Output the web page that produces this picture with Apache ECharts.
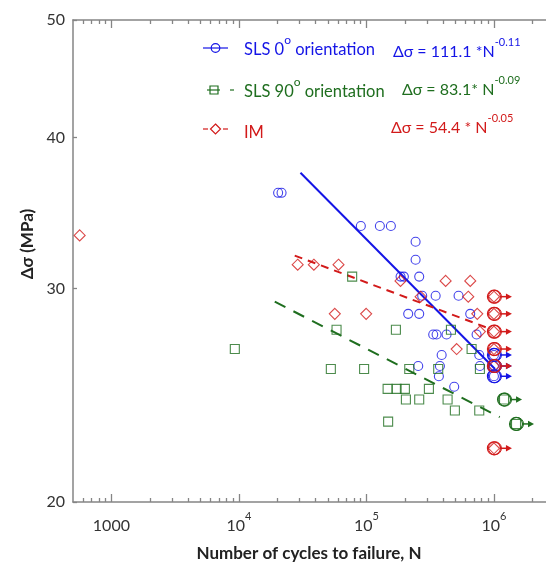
<!DOCTYPE html>
<html><head><meta charset="utf-8">
<script src="https://cdn.jsdelivr.net/npm/echarts@6/dist/echarts.min.js"></script>
<style>html,body{margin:0;padding:0;background:#fff}#c{width:546px;height:566px}</style>
</head><body><div id="c"></div>
<script>
// ---------------- data ----------------
const sls0N = [20300, 21600, 90400, 127500, 155500, 243000, 243000, 185300, 196600, 259400, 273800, 349000, 528000, 212600, 259400, 651700, 334000, 355000, 425000, 731000, 389000, 767000, 254800, 377000, 776000, 370000, 488000];
const sls0S = [36.0, 36.0, 33.8, 33.8, 33.8, 32.8, 31.7, 30.7, 30.7, 30.7, 29.6, 29.6, 29.6, 28.6, 28.6, 28.6, 27.5, 27.5, 27.5, 27.5, 26.45, 26.45, 25.9, 25.9, 25.9, 25.4, 24.9];
const sls0RunN = [1000000, 1000000, 1000000];
const sls0RunS = [26.45, 25.9, 25.4];

const sls90N = [9290, 77300, 58300, 170300, 460000, 668000, 52600, 95900, 216700, 365600, 776000, 146600, 172500, 200300, 309000, 204000, 259400, 433000, 494000, 767000, 148000];
const sls90S = [26.75, 30.7, 27.75, 27.75, 27.75, 26.75, 25.75, 25.75, 25.75, 25.75, 25.75, 24.8, 24.8, 24.8, 24.8, 24.3, 24.3, 24.3, 23.8, 23.8, 23.3];
const sls90RunN = [1200000, 1490000];
const sls90RunS = [24.3, 23.2];

const imN = [564, 28900, 38700, 60400, 185000, 418000, 652000, 266000, 629000, 56500, 99500, 740000, 776000, 510000];
const imS = [33.2, 31.4, 31.4, 31.4, 30.45, 30.45, 30.45, 29.55, 29.55, 28.6, 28.6, 28.6, 27.65, 26.75];
const imRunN = [1000000, 1000000, 1000000, 1000000, 1000000, 1000000];
const imRunS = [29.55, 28.6, 27.65, 26.75, 25.9, 22.15];

// fitted lines (end points as drawn)
const fit0N = [30400, 1020000];
const fit0S = [37.4, 25.75];
const fit90N = [19100, 1110000];
const fit90S = [29.27, 23.5];
const fitImN = [27400, 930000];
const fitImS = [31.95, 27.8];

// axis ticks / labels
const xRange = [500, 2560000];
const yRange = [20, 50];
const xMajorTicks = [1000, 10000, 100000, 1000000];
const yTicks = [20, 30, 40, 50];

const legendNames = ['SLS 0', 'SLS 90', 'IM'];
const equations = [['111.1 *N', '-0.11'], ['83.1* N', '-0.09'], ['54.4 * N', '-0.05']];

// ---------------- styling ----------------
const FONT = 'Lato';
const BLUE = '#1414e6', GREEN = '#1f6e1f', RED = '#d21a1a';
const AXC = '#858585', TXT = '#333333';
const L = Math.log10;
const zip = (a, b) => a.map((v, i) => [v, b[i]]);

const xMinor = [];
for (let d = 2; d <= 6; d++) for (let k = 2; k <= 9; k++) {
  const v = k * Math.pow(10, d);
  if (v > xRange[0] && v < xRange[1]) xMinor.push(L(v));
}
const xMajorLog = xMajorTicks.map(L);

// rich styles for axis labels (ECharts label model uses "color")
const supRich = (size, color) => ({
  b: {fontSize: size, fontFamily: FONT, color: color, padding: [7, 0, 0, 0], verticalAlign: 'bottom'},
  s: {fontSize: Math.round(size * 0.7), fontFamily: FONT, color: color, verticalAlign: 'top'}
});
// rich styles for graphic text (zrender style uses "fill")
const supRichG = (size, color) => ({
  b: {fontSize: size, fontFamily: FONT, fill: color, padding: [7, 0, 0, 0], verticalAlign: 'bottom'},
  s: {fontSize: Math.round(size * 0.7), fontFamily: FONT, fill: color, verticalAlign: 'top'}
});

function overlayX(pos, ticks, len, showLine, showLabel) {
  return {
    type: 'value', position: pos, min: L(xRange[0]), max: L(xRange[1]),
    axisLine: {show: showLine, lineStyle: {color: AXC, width: 1.5}},
    axisTick: {show: true, inside: true, length: len, customValues: ticks, lineStyle: {color: AXC, width: 1.3}},
    axisLabel: showLabel ? {
      customValues: xMajorLog, margin: 9,
      formatter: v => { const e = Math.round(v); return e === 3 ? '{b|1000}' : '{b|10}{s|' + e + '}'; },
      rich: supRich(16, TXT)
    } : {show: false},
    splitLine: {show: false}
  };
}

const runData = [].concat(
  zip(sls0RunN, sls0RunS).map(p => p.concat(0)),
  zip(imRunN, imRunS).map(p => p.concat(2)),
  zip(sls90RunN, sls90RunS).map(p => p.concat(1))
);
const runColors = [BLUE, GREEN, RED];

const scatterStyle = (c) => ({color: 'rgba(0,0,0,0)', borderColor: c, borderWidth: 1.1});

const chart = echarts.init(document.getElementById('c'), null, {renderer: 'canvas'});

const option = {
  animation: false,
  backgroundColor: '#fff',
  grid: {left: 73, right: 0, top: 20, bottom: 64},
  xAxis: [
    {type: 'log', min: xRange[0], max: xRange[1], show: false},
    overlayX('bottom', xMajorLog, 8, true, true),
    overlayX('bottom', xMinor, 4, false, false),
    overlayX('top', xMajorLog, 8, true, false),
    overlayX('top', xMinor, 4, false, false)
  ],
  yAxis: [
    {type: 'log', min: yRange[0], max: yRange[1], show: false},
    {
      type: 'value', position: 'left', min: L(yRange[0]), max: L(yRange[1]),
      axisLine: {show: true, lineStyle: {color: AXC, width: 1.5}},
      axisTick: {show: true, inside: true, length: 4, customValues: yTicks.map(L), lineStyle: {color: AXC, width: 1.3}},
      axisLabel: {customValues: yTicks.map(L), margin: 8, color: TXT, fontSize: 16, fontFamily: FONT,
        formatter: v => String(Math.round(Math.pow(10, v)))},
      splitLine: {show: false}
    }
  ],
  series: [
    {type: 'line', data: zip(fit0N, fit0S), showSymbol: false, lineStyle: {color: BLUE, width: 2}, z: 3},
    {type: 'line', data: zip(fit90N, fit90S), showSymbol: false, lineStyle: {color: GREEN, width: 2, type: [12, 9]}, z: 3},
    {type: 'line', data: zip(fitImN, fitImS), showSymbol: false, lineStyle: {color: RED, width: 2, type: [8, 6]}, z: 3},
    {type: 'scatter', data: zip(sls0N, sls0S).concat(zip(sls0RunN, sls0RunS)), symbol: 'circle', symbolSize: 9, itemStyle: scatterStyle(BLUE), z: 4},
    {type: 'scatter', data: zip(sls90N, sls90S).concat(zip(sls90RunN, sls90RunS)), symbol: 'rect', symbolSize: 9, itemStyle: scatterStyle(GREEN), z: 4},
    {type: 'scatter', data: zip(imN, imS).concat(zip(imRunN, imRunS)), symbol: 'diamond', symbolSize: 11, itemStyle: scatterStyle(RED), z: 4},
    {
      type: 'custom', data: runData, z: 5,
      renderItem: (params, api) => {
        const p = api.coord([api.value(0), api.value(1)]);
        const c = runColors[api.value(2)];
        const x = p[0], y = p[1];
        return {type: 'group', children: [
          {type: 'circle', shape: {cx: x, cy: y, r: 6.5}, style: {fill: 'none', stroke: c, lineWidth: 1.2}},
          {type: 'circle', shape: {cx: x + 1, cy: y, r: 6.5}, style: {fill: 'none', stroke: c, lineWidth: 1}},
          {type: 'line', shape: {x1: x + 7, y1: y, x2: x + 13, y2: y}, style: {stroke: c, lineWidth: 1.5}},
          {type: 'polygon', shape: {points: [[x + 12, y - 3.2], [x + 18, y], [x + 12, y + 3.2]]}, style: {fill: c}}
        ]};
      }
    }
  ],
  graphic: [
    {type: 'text', x: 28, y: 244, rotation: Math.PI / 2,
      style: {text: 'Δσ (MPa)', fontFamily: FONT, fontWeight: 'bold', fontSize: 17, fill: '#222', align: 'center', verticalAlign: 'middle'}},
    {type: 'text', x: 309, y: 554,
      style: {text: 'Number of cycles to failure, N', fontFamily: FONT, fontWeight: 'bold', fontSize: 17, fill: '#222', align: 'center', verticalAlign: 'middle'}},
    // legend keys
    {type: 'line', shape: {x1: 203, y1: 48, x2: 228, y2: 48}, style: {stroke: BLUE, lineWidth: 1.2}},
    {type: 'circle', shape: {cx: 215.5, cy: 48, r: 4.3}, style: {fill: 'none', stroke: BLUE, lineWidth: 1.2}},
    {type: 'line', shape: {x1: 207, y1: 90, x2: 220, y2: 90}, style: {stroke: GREEN, lineWidth: 1.2}},
    {type: 'rect', shape: {x: 210, y: 86, width: 8, height: 8}, style: {fill: 'none', stroke: GREEN, lineWidth: 1.2}},
    {type: 'line', shape: {x1: 230, y1: 90, x2: 234, y2: 90}, style: {stroke: GREEN, lineWidth: 1.2}},
    {type: 'line', shape: {x1: 203, y1: 129, x2: 208, y2: 129}, style: {stroke: RED, lineWidth: 1.2}},
    {type: 'polygon', shape: {points: [[215.5, 124], [220.5, 129], [215.5, 134], [210.5, 129]]}, style: {fill: 'none', stroke: RED, lineWidth: 1.2}},
    {type: 'line', shape: {x1: 223, y1: 129, x2: 228, y2: 129}, style: {stroke: RED, lineWidth: 1.2}},
    // legend texts
    {type: 'text', x: 244, y: 46, style: {text: '{b|' + legendNames[0] + '}{s|o}{b| orientation}', rich: supRichG(16.5, BLUE), verticalAlign: 'middle'}},
    {type: 'text', x: 244, y: 88, style: {text: '{b|' + legendNames[1] + '}{s|o}{b| orientation}', rich: supRichG(16.5, GREEN), verticalAlign: 'middle'}},
    {type: 'text', x: 244, y: 129, style: {text: '{b|' + legendNames[2] + '}', rich: supRichG(16.5, RED), verticalAlign: 'middle'}},
    // equations
    {type: 'text', x: 393, y: 48, style: {text: '{b|Δσ = ' + equations[0][0] + '}{s|' + equations[0][1] + '}', rich: supRichG(16, BLUE), verticalAlign: 'middle'}},
    {type: 'text', x: 402, y: 86, style: {text: '{b|Δσ = ' + equations[1][0] + '}{s|' + equations[1][1] + '}', rich: supRichG(16, GREEN), verticalAlign: 'middle'}},
    {type: 'text', x: 391, y: 124, style: {text: '{b|Δσ = ' + equations[2][0] + '}{s|' + equations[2][1] + '}', rich: supRichG(16, RED), verticalAlign: 'middle'}}
  ]
};
chart.setOption(option);
</script></body></html>
